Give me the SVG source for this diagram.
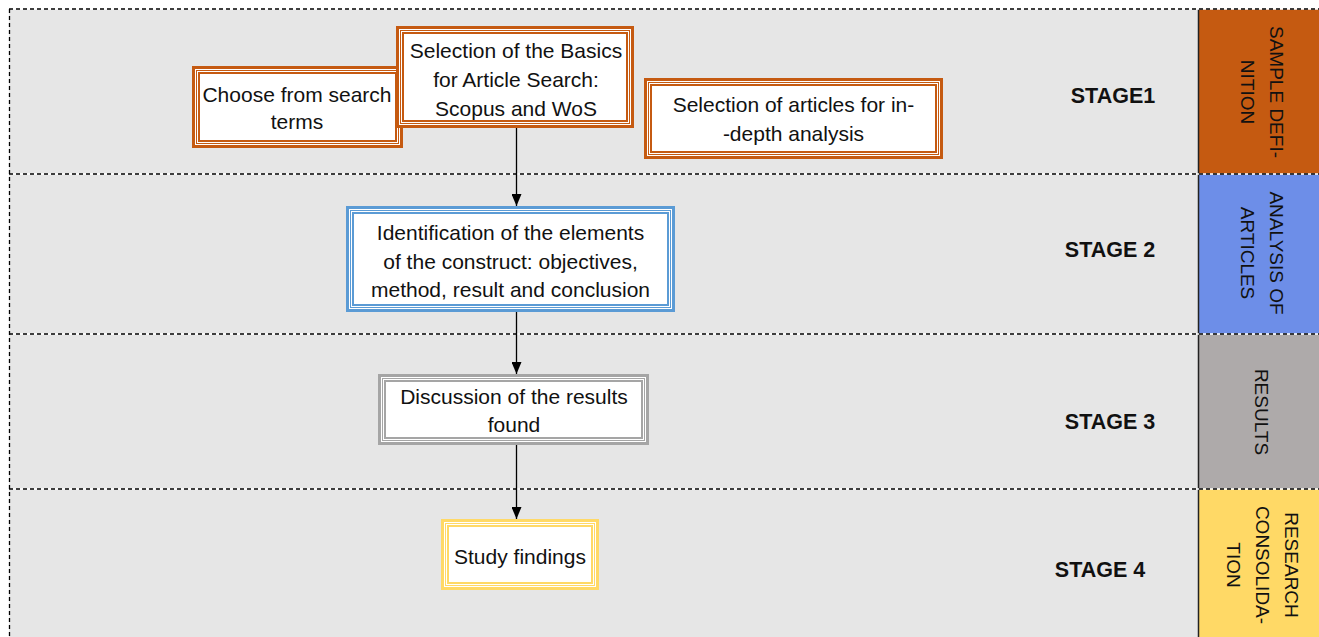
<svg xmlns="http://www.w3.org/2000/svg" width="1319" height="637" viewBox="0 0 1319 637">
<style>
.bt{font-family:"Liberation Sans",Arial,sans-serif;font-size:21px;fill:#111;text-anchor:middle}
.st{font-family:"Liberation Sans",Arial,sans-serif;font-size:21.5px;font-weight:bold;fill:#111;text-anchor:middle}
.vt{font-family:"Liberation Sans",Arial,sans-serif;font-size:19px;fill:#111;text-anchor:middle}
.dash{stroke:#000;stroke-width:1.3;stroke-dasharray:4 3;fill:none}
.wl{stroke:#fff;stroke-width:1.3;fill:none}
.fr{fill:#fff}
.o1{fill:none;stroke-width:3}
.o2{fill:none;stroke-width:1}
.o3{fill:none;stroke-width:2}
.or{stroke:#c55a11}
.bl{stroke:#5b9bd5}
.gr{stroke:#a5a5a5}
.ye{stroke:#ffd966}
.conn{stroke:#000;stroke-width:1.3;fill:none}
</style>
<defs>
<marker id="ah" viewBox="0 0 12 10" refX="12" refY="5" markerWidth="12" markerHeight="10" markerUnits="userSpaceOnUse" orient="auto">
<path d="M0,0 L12,5 L0,10 z" fill="#000"/>
</marker>
</defs>
<rect x="0" y="0" width="1319" height="637" fill="#fff"/>
<g id="background">
<rect x="9" y="9" width="1189" height="628" fill="#e6e6e6"/>
<rect x="1198" y="9" width="121" height="165" fill="#c55a11"/>
<rect x="1198" y="174" width="121" height="160" fill="#6d8ee8"/>
<rect x="1198" y="334" width="121" height="155" fill="#aeaaaa"/>
<rect x="1198" y="489" width="121" height="148" fill="#ffd966"/>
<line x1="1198.5" y1="9" x2="1198.5" y2="637" stroke="#222" stroke-width="1.5"/>
<line class="wl" x1="9" y1="9" x2="1319" y2="9"/>
<line class="dash" x1="9" y1="9" x2="1319" y2="9"/>
<line class="wl" x1="9" y1="174" x2="1319" y2="174"/>
<line class="dash" x1="9" y1="174" x2="1319" y2="174"/>
<line class="wl" x1="9" y1="334" x2="1319" y2="334"/>
<line class="dash" x1="9" y1="334" x2="1319" y2="334"/>
<line class="wl" x1="9" y1="489" x2="1319" y2="489"/>
<line class="dash" x1="9" y1="489" x2="1319" y2="489"/>
<line class="dash" x1="9.5" y1="9" x2="9.5" y2="637"/>
</g>
<g id="stage-labels">
<text class="st" x="1113" y="103">STAGE1</text>
<text class="st" x="1110" y="257">STAGE 2</text>
<text class="st" x="1110" y="429">STAGE 3</text>
<text class="st" x="1100" y="577">STAGE 4</text>
</g>
<g id="phase-labels">
<text class="vt" transform="translate(1277,92) rotate(90)" dy="0.35em">SAMPLE DEFI-</text>
<text class="vt" transform="translate(1248,92) rotate(90)" dy="0.35em">NITION</text>
<text class="vt" transform="translate(1277,253) rotate(90)" dy="0.35em">ANALYSIS OF</text>
<text class="vt" transform="translate(1248,253) rotate(90)" dy="0.35em">ARTICLES</text>
<text class="vt" transform="translate(1262,412) rotate(90)" dy="0.35em">RESULTS</text>
<text class="vt" transform="translate(1292,565) rotate(90)" dy="0.35em">RESEARCH</text>
<text class="vt" transform="translate(1263,565) rotate(90)" dy="0.35em">CONSOLIDA-</text>
<text class="vt" transform="translate(1234,565) rotate(90)" dy="0.35em">TION</text>
</g>
<g id="connectors">
<line class="conn" x1="516.5" y1="128" x2="516.5" y2="206" marker-end="url(#ah)"/>
<line class="conn" x1="516.5" y1="312" x2="516.5" y2="374" marker-end="url(#ah)"/>
<line class="conn" x1="516.5" y1="445" x2="516.5" y2="519" marker-end="url(#ah)"/>
</g>
<g id="node-search-terms">
<rect class="fr" x="192" y="66" width="211" height="82"/>
<rect class="o1 or" x="193.5" y="67.5" width="208" height="79"/>
<rect class="o2 or" x="196.5" y="70.5" width="202" height="73"/>
<rect class="o3 or" x="199" y="73" width="197" height="68"/>
<text class="bt" x="297" y="102">Choose from search</text>
<text class="bt" x="297" y="129">terms</text>
</g>
<g id="node-basics">
<rect class="fr" x="396" y="26" width="238" height="102"/>
<rect class="o1 or" x="397.5" y="27.5" width="235" height="99"/>
<rect class="o2 or" x="400.5" y="30.5" width="229" height="93"/>
<rect class="o3 or" x="403" y="33" width="224" height="88"/>
<text class="bt" x="516" y="58">Selection of the Basics</text>
<text class="bt" x="516" y="87">for Article Search:</text>
<text class="bt" x="516" y="116">Scopus and WoS</text>
</g>
<g id="node-articles">
<rect class="fr" x="644" y="78" width="299" height="81"/>
<rect class="o1 or" x="645.5" y="79.5" width="296" height="78"/>
<rect class="o2 or" x="648.5" y="82.5" width="290" height="72"/>
<rect class="o3 or" x="651" y="85" width="285" height="67"/>
<text class="bt" x="793.5" y="112">Selection of articles for in-</text>
<text class="bt" x="793.5" y="141">-depth analysis</text>
</g>
<g id="node-identification">
<rect class="fr" x="346" y="206" width="329" height="106"/>
<rect class="o1 bl" x="347.5" y="207.5" width="326" height="103"/>
<rect class="o2 bl" x="350.5" y="210.5" width="320" height="97"/>
<rect class="o3 bl" x="353" y="213" width="315" height="92"/>
<text class="bt" x="510.5" y="240">Identification of the elements</text>
<text class="bt" x="510.5" y="269">of the construct: objectives,</text>
<text class="bt" x="510.5" y="297">method, result and conclusion</text>
</g>
<g id="node-discussion">
<rect class="fr" x="378" y="374" width="271" height="71"/>
<rect class="o1 gr" x="379.5" y="375.5" width="268" height="68"/>
<rect class="o2 gr" x="382.5" y="378.5" width="262" height="62"/>
<rect class="o3 gr" x="385" y="381" width="257" height="57"/>
<text class="bt" x="514" y="404">Discussion of the results</text>
<text class="bt" x="514" y="432">found</text>
</g>
<g id="node-findings">
<rect class="fr" x="441" y="519" width="158" height="71"/>
<rect class="o1 ye" x="442.5" y="520.5" width="155" height="68"/>
<rect class="o2 ye" x="445.5" y="523.5" width="149" height="62"/>
<rect class="o3 ye" x="448" y="526" width="144" height="57"/>
<text class="bt" x="520" y="564">Study findings</text>
</g>
</svg>
